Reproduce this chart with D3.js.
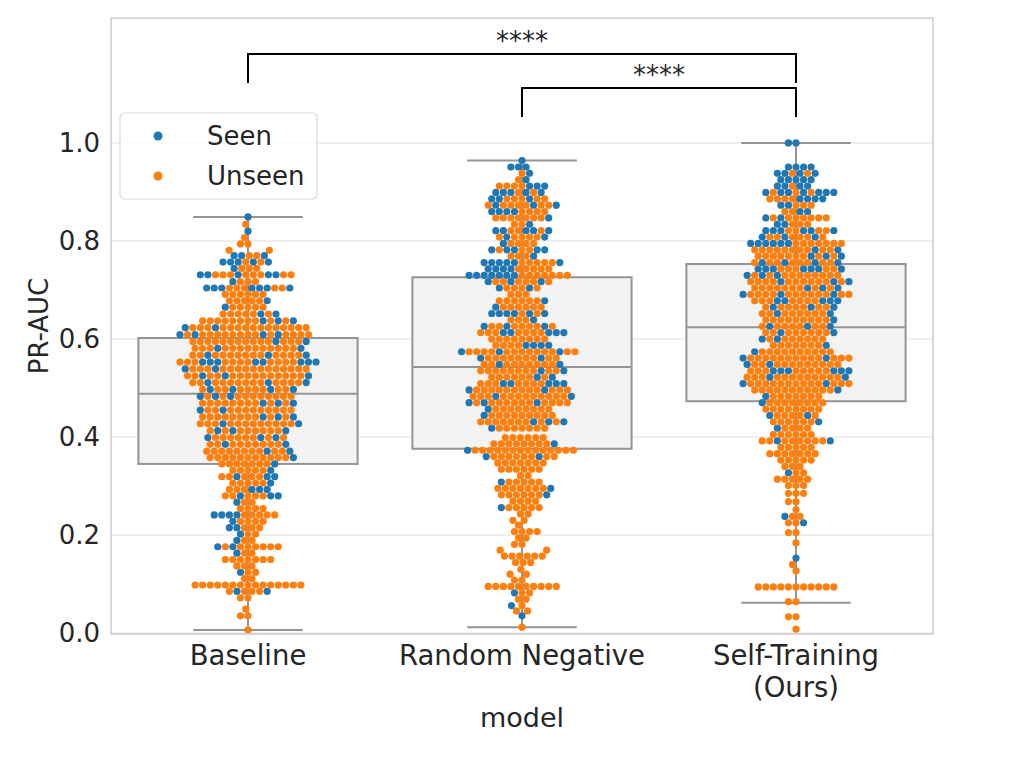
<!DOCTYPE html>
<html>
<head>
<meta charset="utf-8">
<script src="https://cdn.jsdelivr.net/npm/d3@7"></script>
<style>
  body { margin: 0; background: #fff; }
  svg text { font-family: "DejaVu Sans", sans-serif; fill: #262626; }
</style>
</head>
<body>
<svg id="chart" width="1032" height="764"></svg>
<script>
const models = ["Baseline", "Random Negative", "Self-Training\n(Ours)"]
const hues = ["Seen", "Unseen"]
const hueColors = ["#1f77b4", "#ff7f0e"]
const yTicks = [0, 0.2, 0.4, 0.6, 0.8, 1.0]

// box stats: [low whisker, q1, median, q3, high whisker]
const boxBaseline = [0.006, 0.345, 0.488, 0.602, 0.849]
const boxRandom = [0.012, 0.376, 0.543, 0.726, 0.964]
const boxSelf = [0.062, 0.473, 0.624, 0.753, 1.0]

// swarm rows: [PR-AUC, seen count, unseen count]
const baselineRows = [
  [0.849,1,0],[0.834,0,1],[0.820,1,0],[0.807,0,1],[0.794,0,2],[0.781,0,2],[0.770,3,2],
  [0.757,5,2],[0.744,1,3],[0.731,5,8],[0.717,1,3],[0.704,7,5],[0.691,0,6],[0.678,1,5],
  [0.665,1,5],[0.651,2,6],[0.637,3,10],[0.623,2,15],[0.609,4,14],[0.595,2,14],[0.581,2,13],
  [0.567,3,13],[0.553,8,11],[0.539,2,15],[0.525,3,14],[0.511,3,13],[0.497,4,9],[0.483,3,10],
  [0.469,3,10],[0.455,2,11],[0.441,3,10],[0.427,2,12],[0.413,3,8],[0.399,3,8],[0.385,2,9],
  [0.371,2,10],[0.358,1,11],[0.345,1,7],[0.332,1,5],[0.319,3,5],[0.306,1,5],[0.293,3,3],
  [0.280,3,5],[0.267,1,2],[0.254,0,4],[0.241,4,5],[0.228,1,4],[0.215,2,3],[0.202,1,2],
  [0.189,1,2],[0.176,2,7],[0.163,1,2],[0.150,0,7],[0.137,0,3],[0.124,1,2],[0.111,0,2],
  [0.098,0,15],[0.085,2,4],[0.072,0,2],[0.049,0,1],[0.035,0,2],[0.006,0,1]
]
const randomRows = [
  [0.964,1,0],[0.951,3,0],[0.938,1,1],[0.925,1,1],[0.912,3,4],[0.899,5,2],[0.886,3,5],
  [0.873,3,7],[0.860,4,4],[0.847,1,7],[0.834,1,2],[0.821,5,3],[0.808,2,5],[0.795,1,4],
  [0.782,5,3],[0.769,1,3],[0.756,6,5],[0.743,4,5],[0.730,7,7],[0.717,3,6],[0.704,2,4],
  [0.691,0,3],[0.678,1,6],[0.665,1,6],[0.652,6,2],[0.639,1,3],[0.626,3,7],[0.613,5,7],
  [0.600,0,8],[0.587,4,4],[0.574,3,13],[0.561,2,9],[0.548,2,9],[0.535,2,10],[0.522,2,7],
  [0.509,5,7],[0.496,2,12],[0.483,2,12],[0.470,3,11],[0.457,1,8],[0.444,1,9],[0.431,3,9],
  [0.418,1,7],[0.399,0,6],[0.386,1,8],[0.373,1,14],[0.360,2,8],[0.347,0,7],[0.334,0,6],
  [0.321,0,2],[0.308,1,5],[0.295,1,7],[0.282,1,6],[0.269,0,4],[0.256,1,5],[0.243,0,2],
  [0.230,0,2],[0.220,0,1],[0.207,0,4],[0.194,0,2],[0.181,0,2],[0.169,0,2],[0.157,0,6],
  [0.144,0,3],[0.130,0,1],[0.120,0,2],[0.108,0,2],[0.095,0,10],[0.082,1,2],[0.069,0,2],
  [0.056,1,1],[0.045,0,2],[0.035,1,0],[0.012,0,1]
]
const selfRows = [
  [1.000,2,0],[0.951,4,0],[0.938,4,2],[0.925,5,0],[0.912,4,1],[0.899,7,3],[0.886,4,4],
  [0.873,2,3],[0.860,2,2],[0.847,2,7],[0.834,2,3],[0.821,6,4],[0.808,3,6],[0.795,6,7],
  [0.782,2,10],[0.769,3,9],[0.756,4,8],[0.743,7,5],[0.730,3,10],[0.717,3,11],[0.704,3,9],
  [0.691,3,12],[0.678,5,7],[0.665,3,7],[0.652,2,8],[0.639,1,9],[0.626,3,7],[0.613,2,8],
  [0.600,2,7],[0.587,1,7],[0.574,1,10],[0.561,2,13],[0.548,2,11],[0.535,6,8],[0.522,2,12],
  [0.509,2,13],[0.496,1,11],[0.483,1,7],[0.470,1,8],[0.457,0,8],[0.444,2,5],[0.431,1,6],
  [0.418,1,4],[0.405,0,6],[0.392,2,8],[0.379,0,5],[0.366,0,7],[0.353,0,5],[0.340,0,3],
  [0.327,1,2],[0.314,0,5],[0.301,0,3],[0.285,0,3],[0.268,0,2],[0.252,0,1],[0.238,1,2],
  [0.225,1,2],[0.205,0,2],[0.184,0,1],[0.153,1,0],[0.140,0,1],[0.127,0,1],[0.094,0,11],
  [0.064,0,2],[0.033,0,2],[0.008,0,1]
]

const boxes = [boxBaseline, boxRandom, boxSelf]
const swarmRows = [baselineRows, randomRows, selfRows]
// significance brackets: [from model index, to model index, label]
const pairs = [[1, 2, "****"], [0, 2, "****"]]

const svg = d3.select("#chart")
const plotLeft = 111, plotRight = 933, plotTop = 18, plotBottom = 634
const R = 3.6

const x = d3.scaleBand().domain(models).range([plotLeft, plotRight])
const y = d3.scaleLinear().domain([-0.002, 1.255]).range([plotBottom, plotTop])

// grid
svg.append("g").selectAll("line").data(yTicks).join("line")
  .attr("x1", plotLeft).attr("x2", plotRight)
  .attr("y1", d => y(d)).attr("y2", d => y(d))
  .attr("stroke", "#ebebeb").attr("stroke-width", 1.5)

// boxes
const bw = x.bandwidth() * 0.8
const boxG = svg.append("g")
boxes.forEach((b, i) => {
  const cx = x(models[i]) + x.bandwidth() / 2
  const g = boxG.append("g").attr("stroke", "#949494").attr("stroke-width", 2).attr("fill", "none")
  g.append("line").attr("x1", cx).attr("x2", cx).attr("y1", y(b[0])).attr("y2", y(b[1]))
  g.append("line").attr("x1", cx).attr("x2", cx).attr("y1", y(b[3])).attr("y2", y(b[4]))
  g.append("line").attr("x1", cx - bw / 4).attr("x2", cx + bw / 4).attr("y1", y(b[0])).attr("y2", y(b[0]))
  g.append("line").attr("x1", cx - bw / 4).attr("x2", cx + bw / 4).attr("y1", y(b[4])).attr("y2", y(b[4]))
  g.append("rect").attr("x", cx - bw / 2).attr("width", bw)
    .attr("y", y(b[3])).attr("height", y(b[1]) - y(b[3])).attr("fill", "#f3f3f3")
  g.append("line").attr("x1", cx - bw / 2).attr("x2", cx + bw / 2).attr("y1", y(b[2])).attr("y2", y(b[2]))
})

// seaborn-like beeswarm: points sorted by value, each put at the free spot nearest the centre
function beeswarm(rows) {
  const pts = []
  rows.forEach(([v, s, u]) => {
    const n = s + u
    for (let i = 0; i < n; i++) {
      const seen = Math.floor((i + 1) * s / n) > Math.floor(i * s / n)
      pts.push({ v: v, hue: seen ? 0 : 1 })
    }
  })
  pts.sort((a, b) => a.v - b.v)
  const d = 2 * R
  const placed = []
  pts.forEach(p => {
    p.py = y(p.v)
    const nb = placed.filter(q => Math.abs(q.py - p.py) < d)
    const cands = [0]
    let leftFirst = true
    nb.forEach(q => {
      const dx = Math.sqrt(Math.max(d * d - (p.py - q.py) ** 2, 0)) * 1.05
      if (leftFirst) cands.push(q.dx - dx, q.dx + dx)
      else cands.push(q.dx + dx, q.dx - dx)
      leftFirst = !leftFirst
    })
    const order = cands.map((c, i) => [c, i]).sort((a, b) => Math.abs(a[0]) - Math.abs(b[0]) || a[1] - b[1])
    p.dx = order[0][0]
    for (const [c] of order) {
      if (nb.every(q => (q.dx - c) ** 2 + (q.py - p.py) ** 2 >= d * d * 0.999)) { p.dx = c; break }
    }
    placed.push(p)
  })
  return placed
}

const dotG = svg.append("g")
swarmRows.forEach((rows, i) => {
  const cx = x(models[i]) + x.bandwidth() / 2
  dotG.append("g").selectAll("circle").data(beeswarm(rows)).join("circle")
    .attr("cx", d => cx + d.dx).attr("cy", d => d.py).attr("r", R)
    .attr("fill", d => hueColors[d.hue])
})

// frame
svg.append("rect").attr("x", plotLeft).attr("y", plotTop)
  .attr("width", plotRight - plotLeft).attr("height", plotBottom - plotTop)
  .attr("fill", "none").attr("stroke", "#cccccc").attr("stroke-width", 1.5)

// y axis labels
svg.append("g").selectAll("text").data(yTicks).join("text")
  .attr("x", 100).attr("y", d => y(d)).attr("dy", "0.36em")
  .attr("text-anchor", "end").attr("font-size", 26)
  .text(d => d3.format(".1f")(d))

// x tick labels
const xl = svg.append("g").selectAll("text").data(models).join("text")
  .attr("text-anchor", "middle").attr("font-size", 27.5)
  .attr("transform", d => `translate(${x(d) + x.bandwidth() / 2},665)`)
xl.selectAll("tspan").data(d => d.split("\n")).join("tspan")
  .attr("x", 0).attr("y", (d, i) => i * 32).text(d => d)

svg.append("text").attr("x", (plotLeft + plotRight) / 2).attr("y", 727).attr("text-anchor", "middle")
  .attr("font-size", 27).text("model")
svg.append("text").attr("transform", `translate(48,${(plotTop + plotBottom) / 2}) rotate(-90)`)
  .attr("text-anchor", "middle").attr("font-size", 26).text("PR-AUC")

// significance brackets
pairs.forEach(([a, b, label], k) => {
  const x1 = x(models[a]) + x.bandwidth() / 2, x2 = x(models[b]) + x.bandwidth() / 2
  const yl = 88 - k * 34
  svg.append("path").attr("d", `M${x1},${yl + 29}V${yl}H${x2}V${yl + 29}`)
    .attr("fill", "none").attr("stroke", "#000").attr("stroke-width", 2)
  svg.append("text").attr("x", (x1 + x2) / 2).attr("y", yl - 4).attr("text-anchor", "middle")
    .attr("font-size", 26).text(label)
})

// legend
const lg = svg.append("g").attr("transform", "translate(120,113)")
lg.append("rect").attr("width", 197).attr("height", 86).attr("rx", 5)
  .attr("fill", "#fff").attr("fill-opacity", 0.8).attr("stroke", "#d9d9d9").attr("stroke-width", 1.2)
hues.forEach((h, i) => {
  lg.append("circle").attr("cx", 38).attr("cy", 23 + i * 40).attr("r", 4.5).attr("fill", hueColors[i])
  lg.append("text").attr("x", 87).attr("y", 23 + i * 40).attr("dy", "0.36em").attr("font-size", 26).text(h)
})
</script>
</body>
</html>
